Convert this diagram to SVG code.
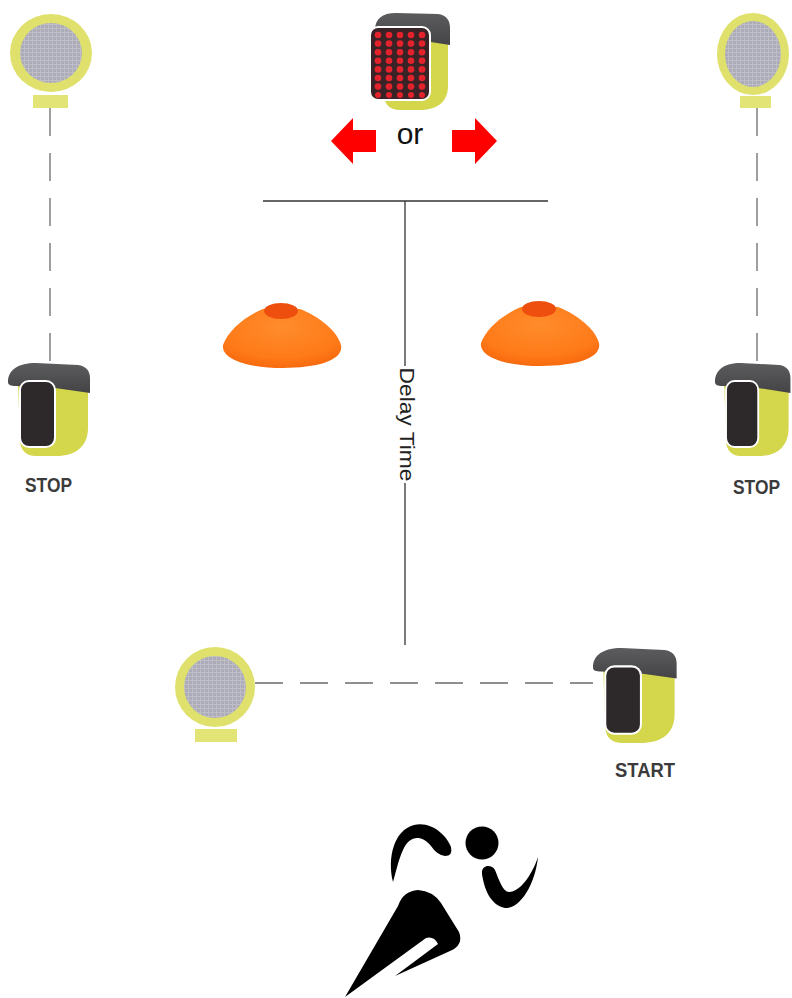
<svg xmlns="http://www.w3.org/2000/svg" xmlns:xlink="http://www.w3.org/1999/xlink" width="792" height="998" viewBox="0 0 792 998">
  <style>
    .dash { fill: none; stroke: #6b6b6b; stroke-width: 1.3; stroke-dasharray: 28 17; }
    .solid { fill: none; stroke: #333333; stroke-width: 1.3; }
    .ring { fill: #dfe16c; }
    .lens { fill: url(#grid); }
    .foot { fill: #e2e476; }
    .cap { fill: url(#capShade); }
    .body { fill: #d4d64c; }
    .screen { fill: #2d2829; stroke: #ffffff; stroke-width: 2; }
    .label { font-family: "Liberation Sans", Arial, sans-serif; font-weight: bold; font-size: 20px; fill: #3b3b3b; text-anchor: middle; }
    .cone { fill: url(#coneShade); }
    .hole { fill: #ee4f0e; }
    .led { fill: #e3222c; }
    .turn { fill: #ff0000; }
  </style>
  <defs>
    <pattern id="grid" width="4" height="4" patternUnits="userSpaceOnUse">
      <rect width="4" height="4" fill="#acabb8"/>
      <path d="M0 0.5 H4 M0.5 0 V4" stroke="#bebdc8" stroke-width="1"/>
    </pattern>
    <linearGradient id="capShade" x1="0" y1="0" x2="0" y2="1">
      <stop offset="0" stop-color="#5c5c5e"/>
      <stop offset="1" stop-color="#444446"/>
    </linearGradient>
    <radialGradient id="coneShade" cx="0.5" cy="0.3" r="0.75">
      <stop offset="0" stop-color="#ff8c2c"/>
      <stop offset="0.7" stop-color="#ff7a18"/>
      <stop offset="1" stop-color="#f5660d"/>
    </radialGradient>
    <filter id="soft" x="-10%" y="-10%" width="120%" height="120%">
      <feGaussianBlur stdDeviation="0.7"/>
    </filter>
    <!-- timing gate unit, drawn in a local 82 x 94 box -->
    <g id="gate">
      <path class="body" d="M10 20 L80 30 L80 66 C80 84 68 94 48 94 L28 94 C18 94 12 88 12 78 Z"/>
      <path class="cap" d="M0 20 C0 8 10 1 28 1 L70 3 C78 4 82 9 82 16 L82 31 L47 26 L8 24 C3 24 0 23 0 20 Z"/>
      <rect class="screen" x="12" y="19" width="35" height="66" rx="9"/>
    </g>
    <!-- cone marker -->
    <g id="cone">
      <path class="cone" d="M263 309 C244 317 228 331 223 345 C221 360 250 368 283 368 C318 368 344 360 341 345 C337 331 320 317 300 309 Z"/>
      <ellipse class="hole" cx="281" cy="311" rx="17" ry="8"/>
    </g>
  </defs>

  <rect width="792" height="998" fill="#ffffff"/>

  <!-- connectors -->
  <g id="connectors">
    <path class="dash" d="M50 108 V362"/>
    <path class="dash" d="M757 108 V362"/>
    <path class="dash" d="M255 683 H593"/>
    <path class="solid" d="M263 201 H548"/>
    <path class="solid" d="M405 201 V645"/>
    <g id="delay-label">
      <rect x="395" y="366" width="22" height="117" fill="#ffffff"/>
      <text transform="translate(400 424.5) rotate(90)" font-family="Liberation Sans, Arial, sans-serif" font-size="21" fill="#222222" text-anchor="middle" textLength="114" lengthAdjust="spacingAndGlyphs">Delay Time</text>
    </g>
  </g>

  <!-- reflectors -->
  <g id="reflector-top-left">
    <ellipse class="ring" cx="51" cy="53" rx="41" ry="39"/>
    <ellipse class="lens" cx="51" cy="53" rx="31" ry="30"/>
    <rect class="foot" x="33" y="95" width="35" height="13"/>
  </g>
  <g id="reflector-top-right">
    <ellipse class="ring" cx="753" cy="54" rx="36" ry="41"/>
    <ellipse class="lens" cx="753" cy="54" rx="28" ry="33"/>
    <rect class="foot" x="740" y="96" width="31" height="12"/>
  </g>
  <g id="reflector-bottom">
    <circle class="ring" cx="215" cy="687" r="40"/>
    <circle class="lens" cx="215" cy="687" r="31"/>
    <rect class="foot" x="195" y="729" width="42" height="13"/>
  </g>

  <!-- signal unit with LED matrix -->
  <g id="signal-unit">
    <path class="body" d="M384 34 L448 42 L448 86 C448 101 438 110 420 110 L400 110 C390 110 384 104 384 95 Z"/>
    <path class="cap" d="M375 30 C375 19 382 13 396 13 L438 14 C446 15 450 20 450 28 L450 45 L418 40 L380 36 C377 35 375 33 375 30 Z"/>
    <rect x="370" y="27" width="60" height="73" rx="8" fill="#3a2326" stroke="#ffffff" stroke-width="2"/>
    <g id="led-matrix">
      <circle class="led" cx="378" cy="35" r="3.3"/><circle class="led" cx="389" cy="35" r="3.3"/><circle class="led" cx="400" cy="35" r="3.3"/><circle class="led" cx="411" cy="35" r="3.3"/><circle class="led" cx="422" cy="35" r="3.3"/>
      <circle class="led" cx="378" cy="43.6" r="3.3"/><circle class="led" cx="389" cy="43.6" r="3.3"/><circle class="led" cx="400" cy="43.6" r="3.3"/><circle class="led" cx="411" cy="43.6" r="3.3"/><circle class="led" cx="422" cy="43.6" r="3.3"/>
      <circle class="led" cx="378" cy="52.2" r="3.3"/><circle class="led" cx="389" cy="52.2" r="3.3"/><circle class="led" cx="400" cy="52.2" r="3.3"/><circle class="led" cx="411" cy="52.2" r="3.3"/><circle class="led" cx="422" cy="52.2" r="3.3"/>
      <circle class="led" cx="378" cy="60.8" r="3.3"/><circle class="led" cx="389" cy="60.8" r="3.3"/><circle class="led" cx="400" cy="60.8" r="3.3"/><circle class="led" cx="411" cy="60.8" r="3.3"/><circle class="led" cx="422" cy="60.8" r="3.3"/>
      <circle class="led" cx="378" cy="69.4" r="3.3"/><circle class="led" cx="389" cy="69.4" r="3.3"/><circle class="led" cx="400" cy="69.4" r="3.3"/><circle class="led" cx="411" cy="69.4" r="3.3"/><circle class="led" cx="422" cy="69.4" r="3.3"/>
      <circle class="led" cx="378" cy="78" r="3.3"/><circle class="led" cx="389" cy="78" r="3.3"/><circle class="led" cx="400" cy="78" r="3.3"/><circle class="led" cx="411" cy="78" r="3.3"/><circle class="led" cx="422" cy="78" r="3.3"/>
      <circle class="led" cx="378" cy="86.6" r="3.3"/><circle class="led" cx="389" cy="86.6" r="3.3"/><circle class="led" cx="400" cy="86.6" r="3.3"/><circle class="led" cx="411" cy="86.6" r="3.3"/><circle class="led" cx="422" cy="86.6" r="3.3"/>
      <circle class="led" cx="378" cy="95" r="3.0"/><circle class="led" cx="389" cy="95" r="3.0"/><circle class="led" cx="400" cy="95" r="3.0"/><circle class="led" cx="411" cy="95" r="3.0"/><circle class="led" cx="422" cy="95" r="3.0"/>
    </g>
  </g>

  <!-- direction cue -->
  <g id="direction-cue">
    <polygon class="turn" points="331,141 353,118 353,130 376,130 376,152 353,152 353,164"/>
    <polygon class="turn" points="497,141 475,118 475,130 452,130 452,152 475,152 475,164"/>
    <text x="410" y="144" font-family="Liberation Sans, Arial, sans-serif" font-size="30" fill="#111111" text-anchor="middle">or</text>
  </g>

  <!-- cones -->
  <g id="cone-left">
    <use xlink:href="#cone"/>
  </g>
  <g id="cone-right">
    <use xlink:href="#cone" transform="translate(258 -2)"/>
  </g>

  <!-- gates -->
  <g id="gate-stop-left">
    <use xlink:href="#gate" transform="translate(8 362)"/>
    <text class="label" x="48.5" y="492" textLength="47" lengthAdjust="spacingAndGlyphs">STOP</text>
  </g>
  <g id="gate-stop-right">
    <use xlink:href="#gate" transform="translate(715 362) scale(0.92 1)"/>
    <text class="label" x="756.5" y="494" textLength="47" lengthAdjust="spacingAndGlyphs">STOP</text>
  </g>
  <g id="gate-start">
    <use xlink:href="#gate" transform="translate(593 647) scale(1.02 1.02)"/>
    <text class="label" x="645" y="777" textLength="60" lengthAdjust="spacingAndGlyphs">START</text>
  </g>

  <!-- athlete pictogram -->
  <g id="runner" fill="#000000" filter="url(#soft)">
    <circle cx="482" cy="843" r="16.5"/>
    <path d="M393 882 C387 858 394 830 414 825 C432 821 447 836 451 847 Q453 856 445 856 Q437 855 431 846 C421 834 409 836 403 850 C398 861 396 872 393 882 Z"/>
    <path d="M482 874 C484 888 490 905 505 908 C520 909 535 885 538 857 C532 875 520 892 509 892 C503 892 499 880 495 870 C492 864 481 864 482 874 Z"/>
    <path d="M345 997 L398 906 Q403 891 418 890 Q433 891 441 903 L459 932 Q464 945 450 951 L395 976 L438 944 Q434 936 426 938 Z"/>
  </g>
</svg>
